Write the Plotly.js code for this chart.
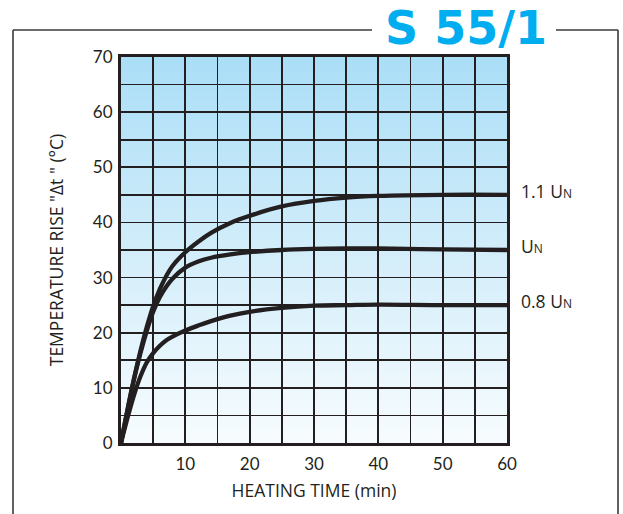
<!DOCTYPE html>
<html>
<head>
<meta charset="utf-8">
<script src="https://cdn.plot.ly/plotly-3.0.1.min.js"></script>
<style>html,body{margin:0;padding:0;background:#fff;}#chart{width:623px;height:514px;}</style>
</head>
<body>
<div id="chart"></div>
<script>
// ---- data ----
var chartTitle = "S 55/1";
var xTitle = "HEATING TIME (min)";
var yTitle = "TEMPERATURE RISE \"\u0394t \" (\u00B0C)";
var xRange = [0, 60];
var yRange = [0, 70];
var xTickVals = [10, 20, 30, 40, 50, 60];
var yTickVals = [0, 10, 20, 30, 40, 50, 60, 70];

var seriesNames = ["1.1 U<span style='font-size:12px'>N</span>", "U<span style='font-size:12px'>N</span>", "0.8 U<span style='font-size:12px'>N</span>"];

var time11 = [0, 1, 2, 3, 4, 5, 6, 7, 8, 10, 12, 14, 17, 20, 25, 30, 35, 40, 50, 60];
var rise11 = [0, 6, 11.6, 16.6, 21, 24.8, 27.8, 30.2, 32.1, 34.6, 36.5, 38.1, 39.9, 41.2, 42.9, 43.9, 44.5, 44.8, 45, 45];

var time10 = [0, 1, 2, 3, 4, 5, 6, 7, 8, 10, 12, 14, 17, 20, 25, 30, 35, 40, 50, 60];
var rise10 = [0, 5.9, 11.4, 16.2, 20.3, 23.8, 26.4, 28.3, 29.8, 31.8, 32.9, 33.6, 34.2, 34.6, 35, 35.2, 35.3, 35.3, 35.1, 35];

var time08 = [0, 1, 2, 3, 4, 5, 6, 7, 8, 10, 12, 14, 17, 20, 25, 30, 35, 40, 50, 60];
var rise08 = [0, 4.5, 8.6, 12, 14.6, 16.3, 17.6, 18.6, 19.3, 20.4, 21.3, 22.1, 23.1, 23.8, 24.5, 24.9, 25, 25.1, 25, 25];

// ---- styles ----
var ink = "#231f20";
var blue = "#00aeef";
var tickFont = "Lato, 'Open Sans', 'DejaVu Sans', sans-serif";
var textFont = "'Open Sans', Lato, 'DejaVu Sans', sans-serif";

var gradSvg = '<svg xmlns="http://www.w3.org/2000/svg" width="100" height="100" preserveAspectRatio="none">' +
  '<defs><linearGradient id="g" x1="0" y1="0" x2="0" y2="1">' +
  '<stop offset="0" stop-color="#aadef7"/><stop offset="0.5" stop-color="#d2edfa"/><stop offset="1" stop-color="#f7fcfe"/>' +
  '</linearGradient></defs><rect width="100" height="100" fill="url(#g)"/></svg>';
var gradUri = "data:image/svg+xml;charset=utf-8," + encodeURIComponent(gradSvg);

var series = [[time11, rise11], [time10, rise10], [time08, rise08]];
var traces = series.map(function (s, i) {
  return {
    x: s[0], y: s[1], type: "scatter", mode: "lines", name: seriesNames[i],
    line: {color: ink, width: 4.3, shape: "spline", smoothing: 1},
    hoverinfo: "skip"
  };
});

var annotations = series.map(function (s, i) {
  return {
    x: xRange[1], y: s[1][s[1].length - 1], xref: "x", yref: "y",
    text: seriesNames[i], showarrow: false, xanchor: "left", yanchor: "middle",
    xshift: 12, yshift: 4, font: {family: textFont, size: 17.5, color: ink}
  };
});
annotations.push({
  x: 0.895, y: 1.074, xref: "paper", yref: "paper", text: "<b>" + chartTitle + "</b>",
  showarrow: false, xanchor: "center", yanchor: "middle",
  font: {family: "'DejaVu Sans', 'Liberation Sans', sans-serif", size: 46, color: blue}
});

// outer frame (paper coords relative to plot area 121..507 x, 57..443 y)
var frameLine = {color: "#3a3a3a", width: 1.6};
var frameShapes = [
  {type: "line", xref: "paper", yref: "paper", x0: -0.2798, x1: 0.6503, y0: 1.0699, y1: 1.0699, line: frameLine, layer: "below"},
  {type: "line", xref: "paper", yref: "paper", x0: 1.1269, x1: 1.2876, y0: 1.0699, y1: 1.0699, line: frameLine, layer: "below"},
  {type: "line", xref: "paper", yref: "paper", x0: -0.2798, x1: -0.2798, y0: 1.0699, y1: -0.3, line: frameLine, layer: "below"},
  {type: "line", xref: "paper", yref: "paper", x0: 1.2876, x1: 1.2876, y0: 1.0699, y1: -0.3, line: frameLine, layer: "below"}
];

var layout = {
  width: 623, height: 514,
  margin: {l: 121, r: 116, t: 57, b: 71, pad: 0},
  paper_bgcolor: "#ffffff",
  plot_bgcolor: "rgba(0,0,0,0)",
  showlegend: false,
  font: {family: textFont, color: ink},
  xaxis: {
    range: xRange, tickvals: xTickVals, ticks: "", showgrid: true,
    gridcolor: ink, gridwidth: 1.8, zeroline: false,
    minor: {dtick: 5, tick0: 0, showgrid: true, gridcolor: ink, gridwidth: 1.8, ticks: ""},
    showline: true, linecolor: ink, linewidth: 3, mirror: true,
    tickfont: {size: 17, color: ink, family: tickFont}, ticklabelstandoff: 4,
    title: {text: xTitle, font: {size: 17.5, color: ink, family: textFont}, standoff: 12},
    fixedrange: true
  },
  yaxis: {
    range: yRange, tickvals: yTickVals, ticks: "", showgrid: true,
    gridcolor: ink, gridwidth: 1.8, zeroline: false,
    minor: {dtick: 5, tick0: 0, showgrid: true, gridcolor: ink, gridwidth: 1.8, ticks: ""},
    showline: true, linecolor: ink, linewidth: 3, mirror: true,
    tickfont: {size: 17, color: ink, family: tickFont}, ticklabelstandoff: 2,
    title: {text: yTitle, font: {size: 17.5, color: ink, family: textFont}, standoff: 25},
    fixedrange: true
  },
  images: [{
    source: gradUri, xref: "x", yref: "y", x: xRange[0], y: yRange[1],
    sizex: xRange[1] - xRange[0], sizey: yRange[1] - yRange[0],
    sizing: "stretch", layer: "below", xanchor: "left", yanchor: "top"
  }],
  shapes: frameShapes,
  annotations: annotations
};

Plotly.newPlot("chart", traces, layout, {staticPlot: true, displayModeBar: false});
</script>
</body>
</html>
